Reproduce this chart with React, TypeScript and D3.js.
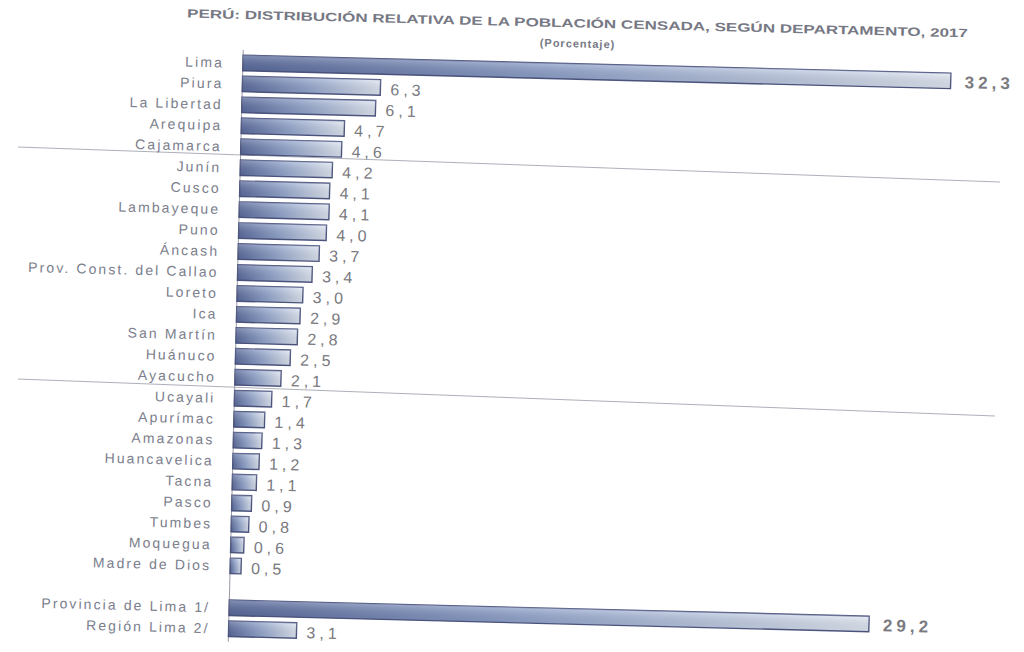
import React from "react";
import * as d3 from "d3";

const departments = [
  "Lima", "Piura", "La Libertad", "Arequipa", "Cajamarca", "Junín", "Cusco",
  "Lambayeque", "Puno", "Áncash", "Prov. Const. del Callao", "Loreto", "Ica",
  "San Martín", "Huánuco", "Ayacucho", "Ucayali", "Apurímac", "Amazonas",
  "Huancavelica", "Tacna", "Pasco", "Tumbes", "Moquegua", "Madre de Dios",
];
const departmentValues = [
  32.3, 6.3, 6.1, 4.7, 4.6, 4.2, 4.1, 4.1, 4.0, 3.7, 3.4, 3.0, 2.9, 2.8, 2.5,
  2.1, 1.7, 1.4, 1.3, 1.2, 1.1, 0.9, 0.8, 0.6, 0.5,
];
const limaParts = ["Provincia de Lima 1/", "Región Lima 2/"];
const limaPartValues = [29.2, 3.1];

const title = "PERÚ: DISTRIBUCIÓN RELATIVA DE LA POBLACIÓN CENSADA, SEGÚN DEPARTAMENTO, 2017";
const subtitle = "(Porcentaje)";

const W = 1024;
const H = 652;
const FONT = "'Liberation Sans', Arial, sans-serif";

type Row = { name: string; value: number; big: boolean };

export default function App() {
  const rows: Row[] = [
    ...departments.map((d, i) => ({ name: d, value: departmentValues[i], big: i === 0 })),
    { name: "__gap", value: NaN, big: false },
    ...limaParts.map((d, i) => ({ name: d, value: limaPartValues[i], big: i === 0 })),
  ];

  const x = d3.scaleLinear().domain([0, 32.3]).range([243, 951]);
  const y = d3
    .scaleBand<string>()
    .domain(rows.map((r) => r.name))
    .range([52.5, 639.4])
    .paddingInner(0.26)
    .paddingOuter(0.13);
  const fmt = (v: number) => d3.format(".1f")(v).replace(".", ",");
  const bh = y.bandwidth();

  return (
    <svg width={W} height={H} style={{ display: "block", position: "absolute", left: 0, top: 0, background: "#fff" }}>
      <defs>
        <linearGradient id="barGrad" x1="0" x2="1" y1="0" y2="0">
          <stop offset="0%" stopColor="#5b6c9f" />
          <stop offset="45%" stopColor="#93a6cf" />
          <stop offset="100%" stopColor="#e2e9f5" />
        </linearGradient>
        <linearGradient id="barGradV" x1="0" x2="0" y1="0" y2="1">
          <stop offset="0%" stopColor="#ffffff" stopOpacity="0.25" />
          <stop offset="100%" stopColor="#000000" stopOpacity="0.08" />
        </linearGradient>
      </defs>

      {/* faint scan rule lines */}
      <line x1={18} y1={147} x2={1000} y2={182} stroke="#8a8f9c" strokeWidth={1} opacity={0.7} />
      <line x1={18} y1={379} x2={995} y2={416} stroke="#8a8f9c" strokeWidth={1} opacity={0.7} />

      <g transform="rotate(1.45 243 60)">
        <text x={186} y={19} textLength={781} lengthAdjust="spacingAndGlyphs" fontFamily={FONT} fontWeight="bold" fontSize={12} fill="#767884">
          {title}
        </text>
        <text x={577} y={39} textAnchor="middle" fontFamily={FONT} fontWeight="bold" fontSize={11} letterSpacing={1} fill="#767884">
          {subtitle}
        </text>

        <line x1={x(0)} x2={x(0)} y1={50} y2={642} stroke="#9a9aa6" strokeWidth={1} />

        {rows.filter((r) => r.name !== "__gap").map((r) => {
          const yy = y(r.name)!;
          const xe = x(r.value);
          return (
            <g key={r.name}>
              <text
                x={224}
                y={yy + bh / 2}
                dy="0.35em"
                textAnchor="end"
                fontFamily={FONT}
                fontSize={14}
                letterSpacing={2.1}
                fill="#7b7e8c"
              >
                {r.name}
              </text>
              <rect x={x(0)} y={yy} width={xe - x(0)} height={bh} fill="url(#barGrad)" stroke="#4d5680" strokeWidth={1.4} />
              <rect x={x(0)} y={yy} width={xe - x(0)} height={bh} fill="url(#barGradV)" />
              <text
                x={xe + (r.big ? 14 : 10)}
                y={yy + bh / 2 + (r.big ? 1 : 2)}
                dy="0.35em"
                fontFamily={FONT}
                fontSize={r.big ? 17 : 16}
                fontWeight={r.big ? "bold" : "normal"}
                letterSpacing={4}
                fill="#7a7a80"
              >
                {fmt(r.value)}
              </text>
            </g>
          );
        })}
      </g>
    </svg>
  );
}
